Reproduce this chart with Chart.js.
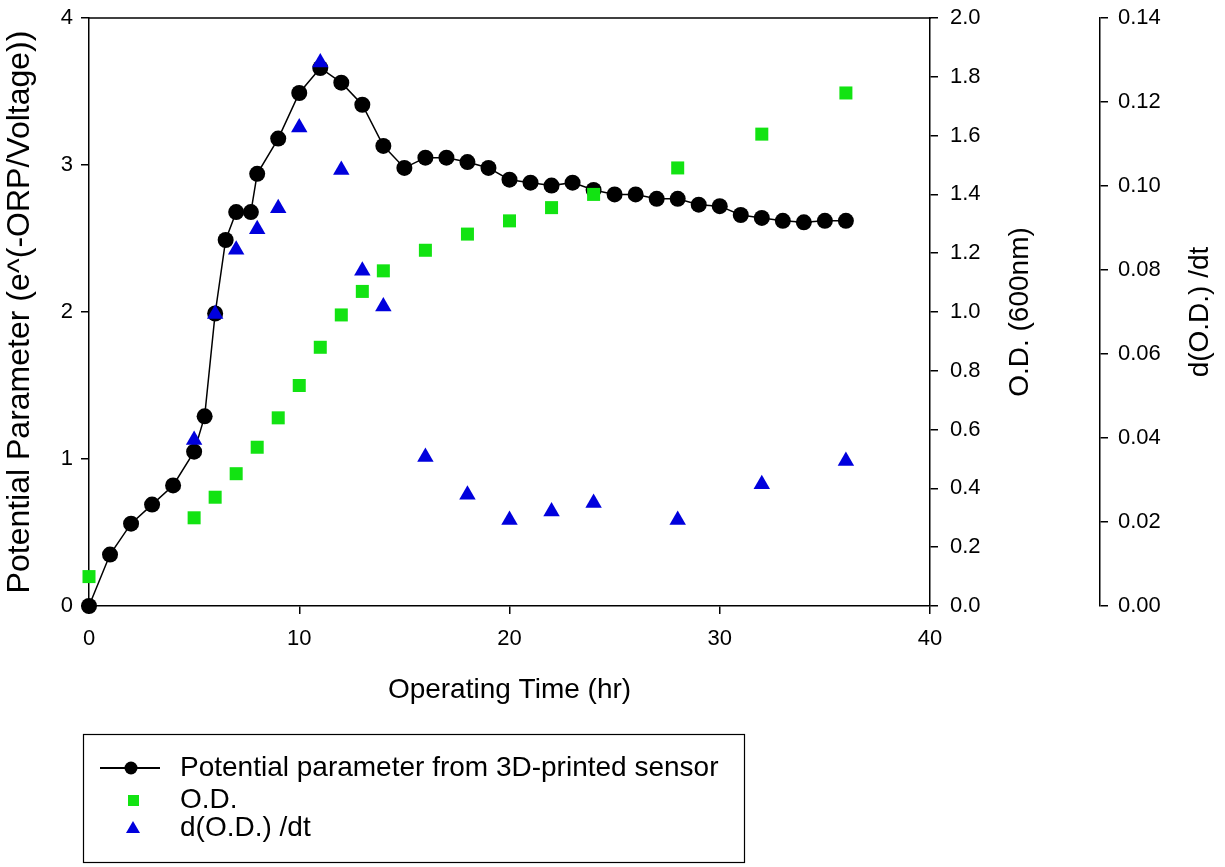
<!DOCTYPE html>
<html>
<head>
<meta charset="utf-8">
<script src="https://cdn.jsdelivr.net/npm/chart.js@4/dist/chart.umd.min.js"></script>
<style>
html,body{margin:0;padding:0;background:#fff;}
#wrap{width:1225px;height:867px;position:relative;}
</style>
</head>
<body>
<div id="wrap"><canvas id="c" width="1225" height="867"></canvas></div>
<script>
// ---- data ----
const timePotential = [0,1,2,3,4,5,5.5,6,6.5,7,7.7,8,9,10,11,12,13,14,15,16,17,18,19,20,21,22,23,24,25,26,27,28,29,30,31,32,33,34,35,36];
const potential = [0,0.35,0.56,0.69,0.82,1.05,1.29,1.99,2.49,2.68,2.68,2.94,3.18,3.49,3.66,3.56,3.41,3.13,2.98,3.05,3.05,3.02,2.98,2.90,2.88,2.86,2.88,2.83,2.80,2.80,2.77,2.77,2.73,2.72,2.66,2.64,2.62,2.61,2.62,2.62];
const timeOD = [0,5,6,7,8,9,10,11,12,13,14,16,18,20,22,24,28,32,36];
const odValues = [0.10,0.30,0.37,0.45,0.54,0.64,0.75,0.88,0.99,1.07,1.14,1.21,1.265,1.31,1.355,1.40,1.49,1.605,1.745];
const timeRate = [5,6,7,8,9,10,11,12,13,14,16,18,20,22,24,28,32,36];
const rateValues = [0.0395,0.0695,0.0848,0.0897,0.0947,0.1139,0.1294,0.1038,0.0798,0.0713,0.0355,0.0265,0.0205,0.0225,0.0245,0.0205,0.029,0.0345];
const seriesNames = ['Potential parameter from 3D-printed sensor','O.D.','d(O.D.) /dt'];
const xTitle = 'Operating Time (hr)';
const yTitle = 'Potential Parameter (e^(-ORP/Voltage))';
const y1Title = 'O.D. (600nm)';
const y2Title = 'd(O.D.) /dt';

const FONT = "'Liberation Sans', Arial, Helvetica, sans-serif";
const GREEN = '#12e312';
const BLUE = '#0000dd';
const toXY = (xs, ys) => xs.map((x, i) => ({x: x, y: ys[i]}));

const extras = {
  id: 'extras',
  afterDraw(chart) {
    const ctx = chart.ctx, a = chart.chartArea;
    ctx.save();
    // top frame line
    ctx.strokeStyle = '#000'; ctx.lineWidth = 1.5;
    ctx.beginPath(); ctx.moveTo(a.left, a.top); ctx.lineTo(a.right + 1, a.top); ctx.stroke();
    // right axis titles (reading bottom-to-top)
    ctx.fillStyle = '#000';
    ctx.font = '28px ' + FONT;
    ctx.textAlign = 'center'; ctx.textBaseline = 'middle';
    const cy = (a.top + a.bottom) / 2;
    [[1020, y1Title], [1200, y2Title]].forEach(([x, t]) => {
      ctx.save(); ctx.translate(x, cy); ctx.rotate(-Math.PI / 2); ctx.fillText(t, 0, 0); ctx.restore();
    });
    // legend box
    ctx.lineWidth = 1.2;
    ctx.strokeRect(83.5, 734.5, 661, 128);
    const rows = [768, 800, 828];
    // row 1: line + circle
    ctx.lineWidth = 2;
    ctx.beginPath(); ctx.moveTo(100, rows[0]); ctx.lineTo(160, rows[0]); ctx.stroke();
    ctx.fillStyle = '#000';
    ctx.beginPath(); ctx.arc(131, rows[0], 6.5, 0, Math.PI * 2); ctx.fill();
    // row 2: square
    ctx.fillStyle = GREEN;
    ctx.fillRect(128, rows[1] - 5, 11, 11);
    // row 3: triangle
    ctx.fillStyle = BLUE;
    ctx.beginPath();
    ctx.moveTo(133, rows[2] - 7); ctx.lineTo(140, rows[2] + 5); ctx.lineTo(126, rows[2] + 5); ctx.closePath(); ctx.fill();
    // legend text
    ctx.fillStyle = '#000';
    ctx.textAlign = 'left'; ctx.textBaseline = 'middle';
    ctx.font = '28px ' + FONT;
    seriesNames.forEach((s, i) => ctx.fillText(s, 180, rows[i]));
    ctx.restore();
  }
};

const tickFont = {family: FONT, size: 22};
const titleFont = {family: FONT, size: 28};
const axisCommon = (extra) => Object.assign({
  grid: {drawOnChartArea: false, drawTicks: true, tickLength: 8, color: '#000', lineWidth: 1.5},
  border: {display: true, color: '#000', width: 1.5},
}, extra);
const fixV = (w) => (s) => { s.width = w; s.paddingTop = 0; s.paddingBottom = 0; };

new Chart(document.getElementById('c').getContext('2d'), {
  type: 'scatter',
  data: {
    datasets: [
      {
        label: seriesNames[0], data: toXY(timePotential, potential), yAxisID: 'y',
        showLine: true, borderColor: '#000', borderWidth: 1.5,
        pointStyle: 'circle', pointRadius: 8, pointBackgroundColor: '#000', pointBorderColor: '#000', pointBorderWidth: 0,
        order: 3, clip: false
      },
      {
        label: seriesNames[1], data: toXY(timeOD, odValues), yAxisID: 'y1',
        showLine: false, pointStyle: 'rect', pointRadius: 9.2,
        pointBackgroundColor: GREEN, pointBorderColor: GREEN, pointBorderWidth: 0,
        order: 2, clip: false
      },
      {
        label: seriesNames[2], data: toXY(timeRate, rateValues), yAxisID: 'y2',
        showLine: false, pointStyle: 'triangle', pointRadius: 9.5,
        pointBackgroundColor: BLUE, pointBorderColor: BLUE, pointBorderWidth: 0,
        order: 1, clip: false
      }
    ]
  },
  options: {
    responsive: false, animation: false, devicePixelRatio: 1,
    layout: {padding: {top: 18, bottom: 157, left: 0, right: 0}},
    plugins: {legend: {display: false}, tooltip: {enabled: false}},
    scales: {
      x: axisCommon({
        type: 'linear', position: 'bottom', min: 0, max: 40,
        ticks: {stepSize: 10, font: tickFont, color: '#000', padding: 12, maxRotation: 0},
        title: {display: true, text: xTitle, font: titleFont, color: '#000', padding: {top: 0, bottom: 3}},
        afterFit(s) { s.height = 104; s.paddingLeft = 0; s.paddingRight = 0; }
      }),
      y: axisCommon({
        type: 'linear', position: 'left', min: 0, max: 4,
        ticks: {stepSize: 1, font: tickFont, color: '#000', padding: 8},
        title: {display: true, text: yTitle, font: {family: FONT, size: 32}, color: '#000', padding: {top: 1, bottom: 0}},
        afterFit: fixV(89)
      }),
      y1: axisCommon({
        type: 'linear', position: 'right', min: 0, max: 2,
        ticks: {stepSize: 0.2, font: tickFont, color: '#000', padding: 12, callback: v => Number(v).toFixed(1)},
        afterFit: fixV(170)
      }),
      y2: axisCommon({
        type: 'linear', position: 'right', min: 0, max: 0.14,
        ticks: {stepSize: 0.02, font: tickFont, color: '#000', padding: 10, callback: v => Number(v).toFixed(2)},
        afterFit: fixV(125)
      })
    }
  },
  plugins: [extras]
});
</script>
</body>
</html>
